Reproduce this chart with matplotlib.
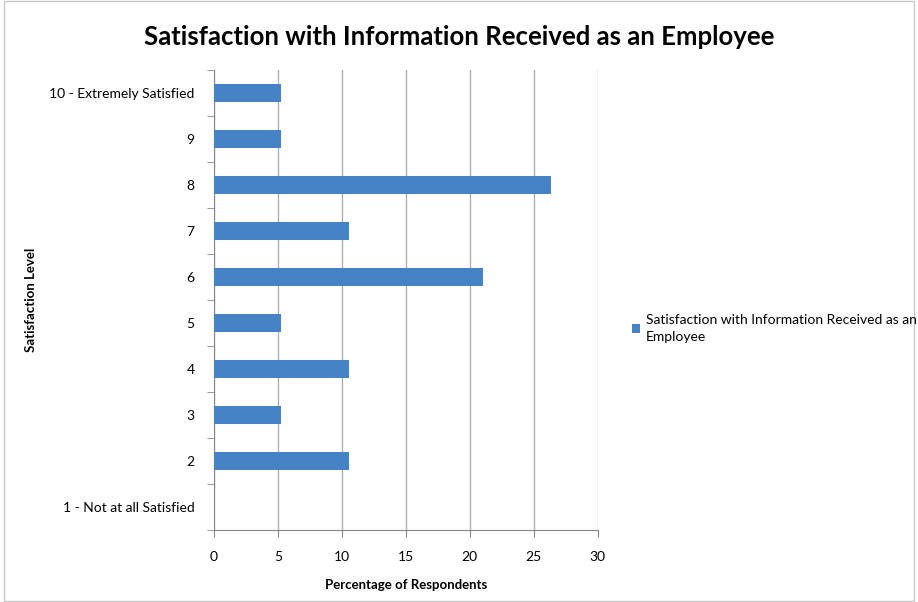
import matplotlib.pyplot as plt
from matplotlib.patches import Rectangle

plt.rcParams['font.family'] = ['Lato', 'DejaVu Sans']

levels = ['1 - Not at all Satisfied', '2', '3', '4', '5', '6', '7', '8', '9',
          '10 - Extremely Satisfied']
percent = [0, 10.53, 5.26, 10.53, 5.26, 21.05, 10.53, 26.32, 5.26, 5.26]
series_name = 'Satisfaction with Information Received as an\nEmployee'
xticks = [0, 5, 10, 15, 20, 25, 30]

fig = plt.figure(figsize=(9.18, 6.02), dpi=100)
ax = fig.add_axes([0.233, 0.12, 0.418, 0.764])

pos = list(range(len(levels)))
ax.barh(pos, percent, height=0.4, color='#4683c6', linewidth=0,
        label=series_name, zorder=3)

ax.set_xlim(0, 30)
ax.set_ylim(-0.5, len(levels) - 0.5)
ax.set_xticks(xticks)
ax.set_yticks(pos)
ax.set_yticklabels(levels)
ax.set_yticks([p - 0.5 for p in pos] + [len(levels) - 0.5], minor=True)
ax.tick_params(axis='y', which='major', length=0, pad=14, labelsize=10)
ax.tick_params(axis='y', which='minor', length=5, color='#888888')
ax.tick_params(axis='x', length=5, color='#888888', pad=10, labelsize=10)

ax.grid(axis='x', color='#b0b0b0', linewidth=1, zorder=0)
for s in ['top', 'right']:
    ax.spines[s].set_visible(False)
for s in ['left', 'bottom']:
    ax.spines[s].set_color('#888888')

ax.set_xlabel('Percentage of Respondents', fontsize=9.5, fontweight='bold',
              labelpad=12)
ax.set_ylabel('Satisfaction Level', fontsize=9.5, fontweight='bold', labelpad=9)
fig.suptitle('Satisfaction with Information Received as an Employee',
             fontsize=18.5, fontweight='bold', x=0.5, y=0.958)

leg = fig.legend(loc='center left', bbox_to_anchor=(0.675, 0.455), frameon=False,
                 fontsize=10, handlelength=0.6, handleheight=0.6, handletextpad=0.4)
plt.setp(leg.get_texts(), linespacing=1.5)

fig.patches.append(Rectangle((0.004, 0.002), 0.992, 0.996, transform=fig.transFigure,
                             fill=False, edgecolor='#c8c8c8', linewidth=1))

fig.savefig('out.png', dpi=100)
